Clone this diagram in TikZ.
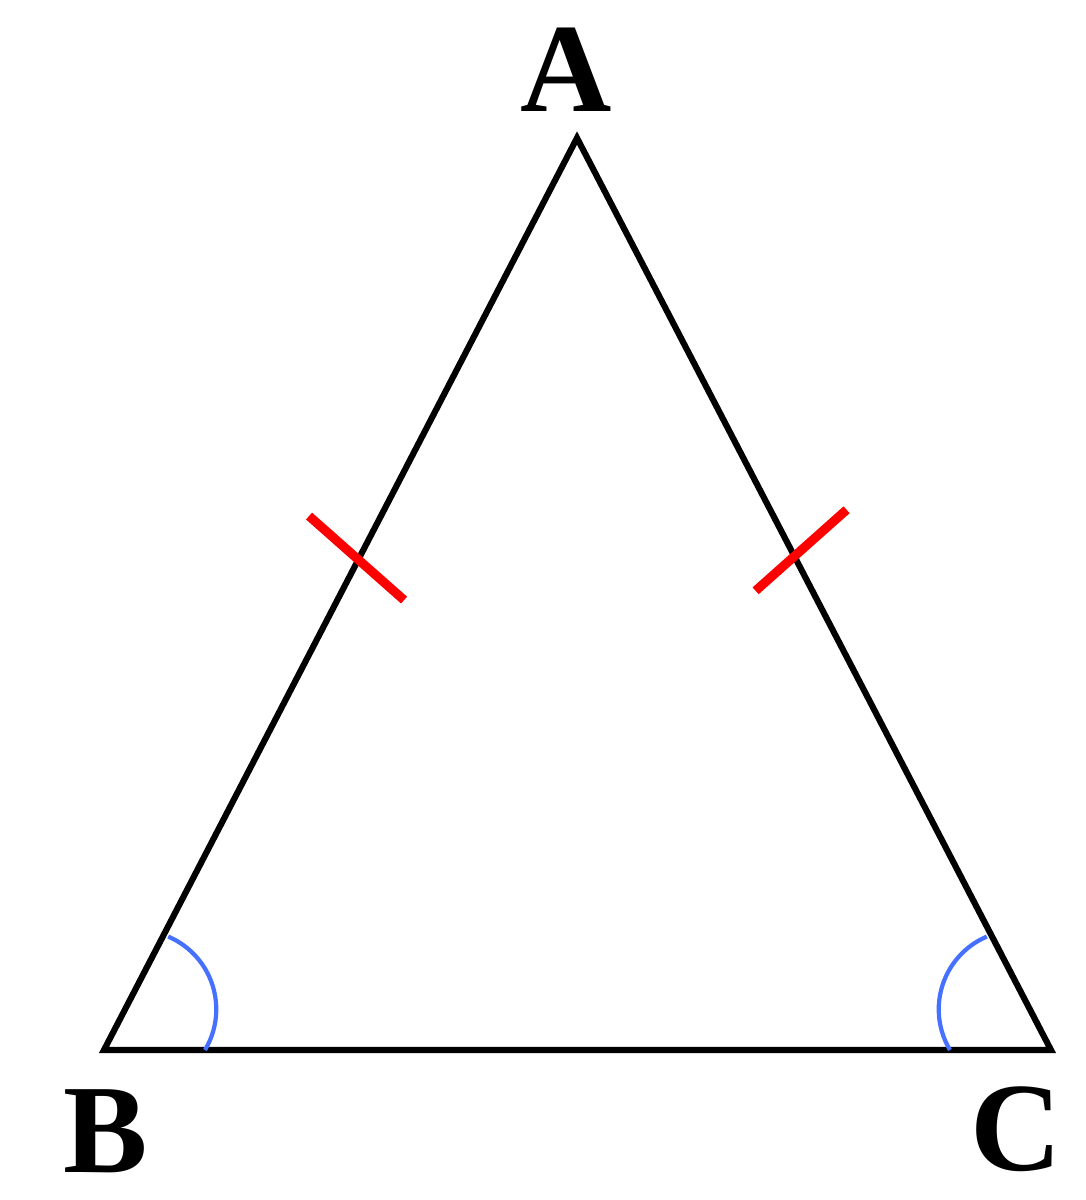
\documentclass[tikz,border=0pt]{standalone}
\usepackage{fontspec}
\setmainfont{Liberation Serif}
\usetikzlibrary{calc}
\tikzset{vertex/.style = {anchor=base, inner sep=0pt, font=\fontsize{36}{40}\selectfont\bfseries},
    side/.style = {line width=1.75pt, line join=miter},
    tick/.style = {red, line width=2.6pt},
    angmark/.style = {color={rgb,255:red,70;green,112;blue,255}, line width=1.2pt}}

\begin{document}
\begin{tikzpicture}
    \useasboundingbox(0,0)rectangle(10.86,12);
    \coordinate(A)at(5.77,10.62);
    \coordinate(B)at(1.04,1.50);
    \coordinate(C)at(10.51,1.50);
    \node[vertex](a)at(5.66,10.88){A};
    \node[vertex](b)at(1.06,0.28){B};
    \node[vertex](c)at(10.16,0.30){C};
    \draw[side](A)--(B)--(C)--cycle;
    \coordinate(mab)at($(B)!0.535!(A)$);
    \coordinate(mac)at($(C)!0.543!(A)$);
    \draw[tick]($(mab)+(-0.48,0.46)$)--($(mab)+(0.47,-0.38)$);
    \draw[tick]($(mac)+(0.53,0.45)$)--($(mac)+(-0.38,-0.36)$);
    \draw[angmark]($(B)+(1.01,0)$)arc[start angle=-31, end angle=67, radius=0.79];
    \draw[angmark]($(C)+(-1.01,0)$)arc[start angle=211, end angle=113, radius=0.79];
\end{tikzpicture}
\end{document}
